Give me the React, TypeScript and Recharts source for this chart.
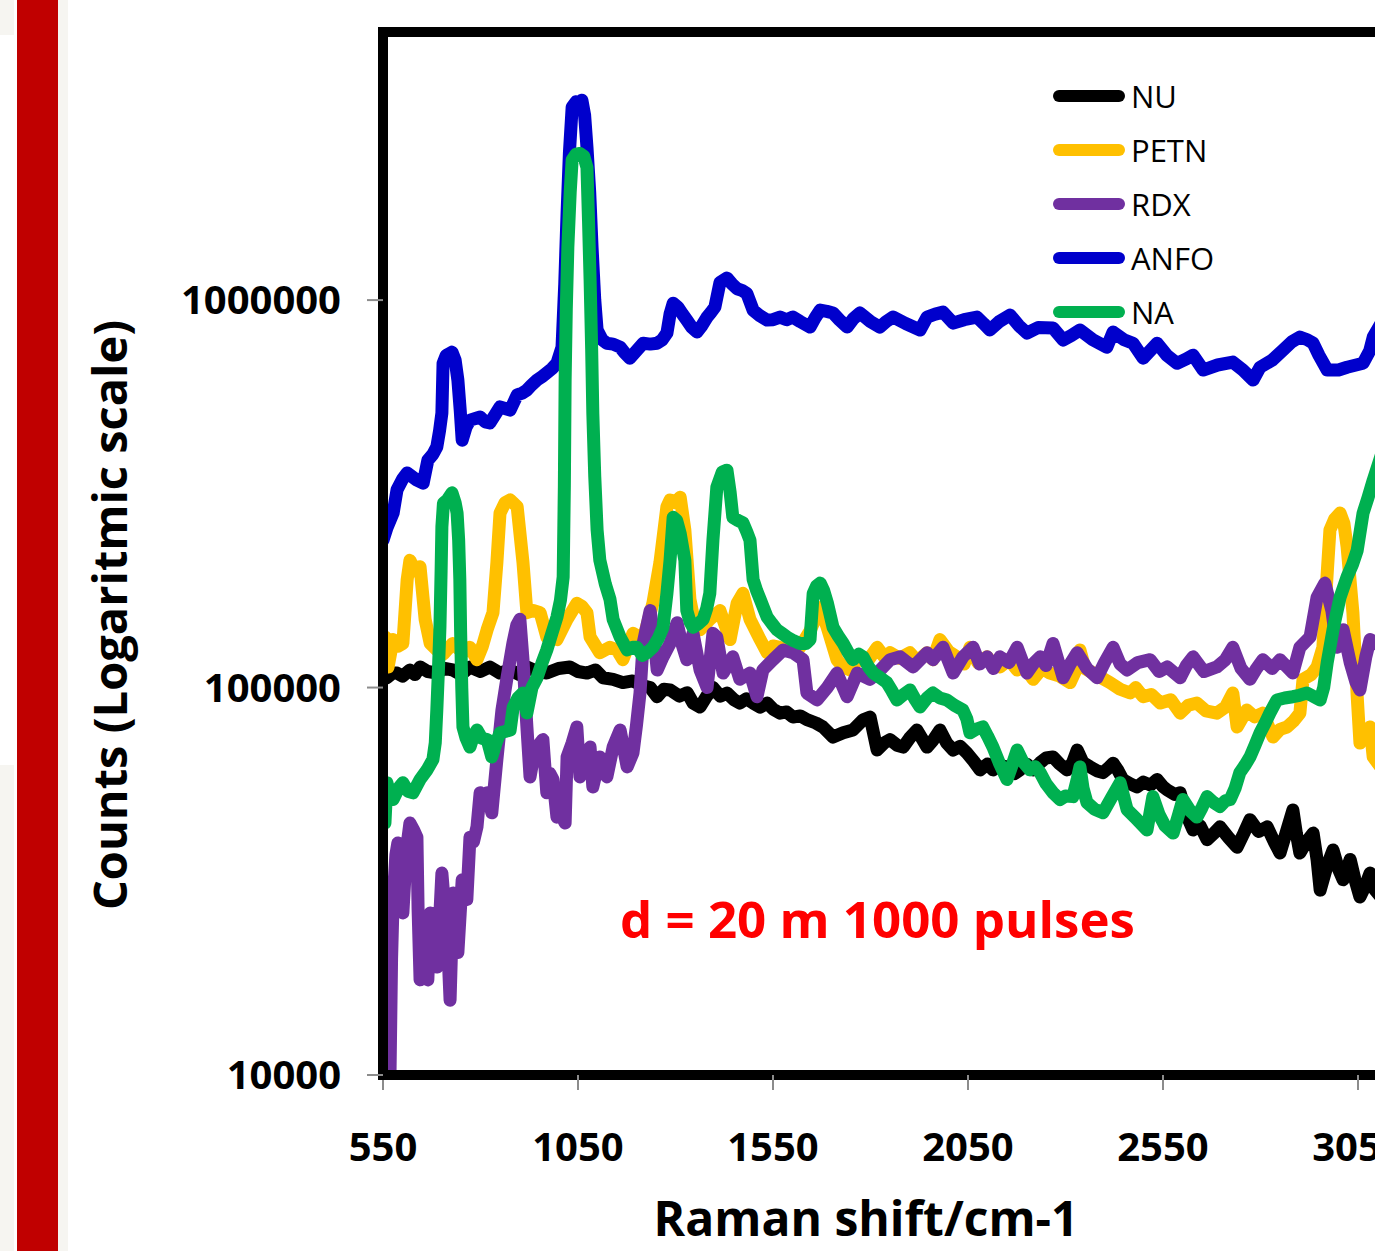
import React from 'react';
import { LineChart, Line, XAxis, YAxis, Legend, ReferenceLine, Customized } from 'recharts';

const FONT = "'Open Sans', 'DejaVu Sans', sans-serif";

const ramanTicks = [550, 1050, 1550, 2050, 2550, 3050];
const countTicks = [10000, 100000, 1000000];
const seriesNames = ['NU', 'PETN', 'RDX', 'ANFO', 'NA'];
const seriesColors = ['#000000', '#FFC000', '#7030A0', '#0000CC', '#00B050'];

const nu: [number, number][] = [
  [550, 108000], [560, 106000], [575, 109000], [586, 109000], [600, 107000], [619, 111000], [632, 108000], [645, 113000],
  [665, 110000], [688, 109000], [708, 112000], [729, 111000], [750, 108000], [773, 113000], [800, 110000], [824, 113000],
  [850, 109000], [876, 111000], [900, 108000], [919, 113000], [945, 110000], [970, 109000], [1000, 112000], [1029, 113000],
  [1050, 110000], [1073, 109000], [1095, 111000], [1114, 106000], [1140, 105000], [1165, 103000], [1190, 104000], [1217, 101000],
  [1235, 100000], [1253, 94700], [1270, 99000], [1286, 98600], [1310, 95000], [1330, 97000], [1345, 91200], [1363, 89100],
  [1380, 95000], [1396, 100000], [1415, 95000], [1432, 96800], [1450, 93000], [1465, 91200], [1482, 93500], [1499, 91200],
  [1517, 89000], [1535, 91200], [1550, 88000], [1568, 85900], [1585, 86500], [1601, 83900], [1620, 84500], [1637, 82600],
  [1660, 81000], [1678, 79100], [1704, 74500], [1730, 76400], [1755, 77700], [1781, 82600], [1799, 83900], [1817, 69000],
  [1835, 72000], [1850, 73400], [1868, 71000], [1884, 70200], [1900, 74000], [1919, 77700], [1945, 70200], [1960, 73000],
  [1978, 77700], [1995, 72000], [2012, 69000], [2030, 70500], [2047, 67800], [2065, 64500], [2081, 61300], [2100, 63500],
  [2114, 61300], [2130, 63000], [2150, 62400], [2170, 60000], [2183, 61300], [2200, 63500], [2217, 61300], [2235, 64000],
  [2250, 65800], [2268, 66200], [2285, 63500], [2304, 61300], [2318, 64000], [2330, 69000], [2345, 64000], [2363, 62400],
  [2380, 61000], [2396, 60300], [2410, 62000], [2422, 63800], [2435, 61000], [2447, 57900], [2465, 56500], [2483, 55400],
  [2500, 57000], [2518, 56000], [2535, 57900], [2550, 55500], [2561, 54400], [2580, 53000], [2594, 53500], [2610, 47000],
  [2627, 42900], [2645, 44000], [2663, 40500], [2680, 42000], [2696, 43700], [2718, 41000], [2740, 38700], [2757, 42000],
  [2773, 45600], [2795, 42500], [2817, 43700], [2835, 40000], [2850, 37400], [2865, 42000], [2883, 48300], [2892, 42000],
  [2901, 37400], [2918, 40000], [2935, 42100], [2945, 36000], [2953, 30000], [2970, 34500], [2986, 38100], [3000, 34000],
  [3012, 31900], [3030, 36000], [3042, 32000], [3055, 28800], [3070, 31000], [3081, 33200], [3094, 30000], [3114, 28400],
  [3150, 27500],
];

const petn: [number, number][] = [
  [550, 130000], [555, 135000], [563, 113000], [576, 133000], [590, 128000], [601, 130000], [612, 190000], [619, 213000],
  [632, 200000], [645, 205000], [658, 150000], [671, 130000], [688, 125000], [705, 122000], [729, 130000], [755, 123000],
  [773, 127000], [791, 118000], [805, 128000], [817, 141000], [832, 156000], [842, 210000], [850, 282000], [863, 300000],
  [876, 305000], [894, 293000], [909, 210000], [919, 156000], [935, 158000], [953, 156000], [970, 135000], [996, 133000],
  [1022, 150000], [1047, 165000], [1060, 162000], [1073, 156000], [1081, 135000], [1106, 123000], [1132, 127000], [1150, 125000],
  [1165, 118000], [1191, 138000], [1217, 133000], [1242, 165000], [1260, 210000], [1278, 293000], [1286, 305000], [1300, 300000],
  [1312, 310000], [1324, 255000], [1337, 169000], [1350, 145000], [1363, 141000], [1388, 150000], [1414, 158000], [1440, 133000],
  [1458, 165000], [1473, 175000], [1491, 150000], [1517, 133000], [1535, 123000], [1550, 128000], [1568, 127000], [1595, 124000],
  [1619, 127000], [1645, 140000], [1671, 161000], [1689, 143000], [1714, 118000], [1730, 113000], [1748, 111000], [1773, 120000],
  [1795, 118000], [1817, 127000], [1835, 120000], [1850, 123000], [1875, 119000], [1901, 123000], [1920, 117000], [1945, 123000],
  [1960, 118000], [1978, 133000], [2000, 124000], [2022, 120000], [2040, 115000], [2055, 127000], [2075, 116000], [2099, 120000],
  [2115, 114000], [2132, 113000], [2155, 118000], [2176, 111000], [2195, 113000], [2217, 105000], [2240, 112000], [2260, 109000],
  [2285, 107000], [2312, 103000], [2325, 110000], [2337, 125000], [2350, 112000], [2371, 109000], [2392, 106000], [2414, 103000],
  [2440, 99000], [2466, 96800], [2480, 100000], [2499, 94700], [2520, 96000], [2543, 91200], [2570, 93000], [2594, 85900],
  [2615, 90000], [2637, 91200], [2660, 87000], [2688, 85900], [2710, 89000], [2729, 96800], [2740, 79100], [2765, 87500],
  [2785, 84000], [2806, 85900], [2832, 74500], [2850, 78000], [2868, 79100], [2885, 82000], [2901, 85900], [2909, 105000],
  [2930, 108000], [2945, 113000], [2960, 127000], [2970, 190000], [2978, 255000], [2990, 272000], [3004, 282000], [3014, 265000],
  [3022, 231000], [3037, 156000], [3048, 94700], [3055, 71900], [3068, 76000], [3081, 79100], [3089, 66200], [3114, 61300],
  [3150, 60000],
];

const rdx: [number, number][] = [
  [556, 10000], [568, 10100], [572, 20000], [576, 28400], [583, 37000], [588, 39700], [595, 33000], [601, 26200],
  [610, 38000], [619, 44700], [628, 43000], [637, 41100], [640, 26700], [645, 17600], [655, 19500], [665, 17600],
  [671, 26200], [680, 22000], [688, 19000], [695, 25000], [701, 33200], [707, 28000], [714, 24100], [722, 15600],
  [730, 29500], [736, 25000], [742, 20700], [753, 31900], [765, 28400], [773, 41100], [782, 40000], [791, 43700],
  [799, 53500], [808, 51000], [817, 53500], [829, 47500], [842, 65200], [855, 87500], [868, 106000], [883, 130000],
  [893, 145000], [901, 150000], [909, 118000], [919, 79100], [927, 58800], [936, 66000], [945, 70200], [960, 73400],
  [970, 53500], [978, 60000], [986, 57900], [996, 46300], [1006, 47000], [1017, 44700], [1022, 66200], [1035, 72000],
  [1047, 79100], [1055, 58800], [1068, 63000], [1081, 70200], [1088, 55400], [1106, 66200], [1115, 62000], [1124, 58800],
  [1140, 70200], [1158, 77700], [1176, 62400], [1191, 67800], [1200, 80000], [1209, 96800], [1217, 130000], [1235, 158000],
  [1245, 135000], [1253, 111000], [1268, 120000], [1286, 130000], [1304, 147000], [1316, 130000], [1329, 118000], [1345, 138000],
  [1363, 111000], [1381, 100000], [1396, 138000], [1406, 135000], [1422, 109000], [1447, 120000], [1465, 105000], [1491, 109000],
  [1509, 94700], [1524, 111000], [1550, 118000], [1576, 125000], [1601, 123000], [1627, 118000], [1637, 96800], [1663, 92900],
  [1689, 100000], [1714, 109000], [1740, 94700], [1766, 109000], [1799, 105000], [1825, 111000], [1850, 118000], [1876, 120000],
  [1909, 113000], [1945, 123000], [1960, 118000], [1986, 127000], [2012, 109000], [2037, 120000], [2063, 127000], [2080, 115000],
  [2099, 120000], [2115, 112000], [2132, 120000], [2155, 116000], [2176, 127000], [2201, 109000], [2220, 116000], [2235, 120000],
  [2250, 114000], [2268, 130000], [2294, 106000], [2312, 115000], [2330, 123000], [2355, 112000], [2381, 106000], [2400, 116000],
  [2422, 127000], [2440, 115000], [2458, 111000], [2485, 116000], [2517, 118000], [2540, 110000], [2561, 113000], [2594, 106000],
  [2610, 114000], [2627, 120000], [2655, 110000], [2688, 113000], [2710, 118000], [2729, 127000], [2750, 112000], [2773, 105000],
  [2790, 112000], [2806, 118000], [2830, 112000], [2850, 118000], [2883, 109000], [2901, 127000], [2927, 135000], [2945, 171000],
  [2965, 186000], [2983, 158000], [2996, 127000], [3012, 141000], [3030, 116000], [3045, 103000], [3055, 98600], [3070, 120000],
  [3081, 133000], [3100, 130000], [3114, 125000], [3150, 124000],
];

const anfo: [number, number][] = [
  [550, 240000], [560, 258000], [576, 282000], [586, 324000], [600, 345000], [612, 358000], [625, 350000], [637, 343000],
  [653, 337000], [665, 386000], [678, 400000], [688, 418000], [695, 460000], [701, 511000], [704, 687000], [712, 720000],
  [727, 734000], [735, 700000], [742, 622000], [748, 520000], [753, 435000], [763, 470000], [773, 490000], [787, 495000],
  [799, 499000], [812, 485000], [824, 482000], [837, 505000], [850, 530000], [863, 525000], [876, 520000], [894, 569000],
  [907, 575000], [919, 586000], [932, 605000], [945, 622000], [958, 635000], [970, 649000], [983, 665000], [996, 687000],
  [1009, 756000], [1016, 1100000], [1022, 1680000], [1028, 2400000], [1035, 3150000], [1045, 3250000], [1052, 3200000], [1060, 3280000],
  [1067, 3000000], [1073, 2480000], [1080, 1900000], [1086, 1370000], [1093, 1000000], [1099, 837000], [1112, 790000], [1124, 774000],
  [1140, 770000], [1158, 756000], [1170, 730000], [1183, 708000], [1200, 740000], [1217, 774000], [1235, 770000], [1253, 774000],
  [1266, 790000], [1278, 822000], [1286, 920000], [1294, 982000], [1306, 959000], [1318, 920000], [1329, 888000], [1342, 850000],
  [1355, 827000], [1368, 860000], [1381, 904000], [1391, 930000], [1401, 959000], [1414, 1110000], [1432, 1140000], [1445, 1100000],
  [1458, 1070000], [1470, 1060000], [1483, 1040000], [1499, 942000], [1517, 910000], [1535, 888000], [1550, 890000], [1568, 904000],
  [1585, 890000], [1601, 904000], [1620, 880000], [1645, 852000], [1658, 900000], [1671, 942000], [1688, 935000], [1704, 926000],
  [1720, 890000], [1740, 852000], [1756, 895000], [1773, 926000], [1800, 880000], [1824, 852000], [1840, 880000], [1858, 904000],
  [1890, 870000], [1927, 837000], [1945, 904000], [1966, 920000], [1986, 931000], [2012, 872000], [2040, 890000], [2073, 904000],
  [2090, 870000], [2106, 837000], [2130, 880000], [2158, 915000], [2180, 860000], [2201, 822000], [2230, 850000], [2268, 847000],
  [2294, 789000], [2315, 810000], [2337, 837000], [2370, 790000], [2406, 756000], [2422, 827000], [2450, 790000], [2473, 774000],
  [2499, 708000], [2517, 740000], [2535, 774000], [2560, 720000], [2586, 687000], [2610, 705000], [2627, 721000], [2653, 660000],
  [2690, 680000], [2729, 692000], [2755, 660000], [2781, 622000], [2799, 671000], [2830, 700000], [2858, 743000], [2880, 780000],
  [2901, 803000], [2920, 790000], [2935, 774000], [2950, 720000], [2971, 660000], [3000, 660000], [3022, 671000], [3045, 680000],
  [3063, 687000], [3080, 740000], [3089, 803000], [3114, 888000], [3150, 950000],
];

const na: [number, number][] = [
  [550, 47000], [555, 44700], [560, 56800], [568, 53000], [576, 51400], [590, 55000], [601, 56800], [614, 54000],
  [627, 53500], [645, 57900], [663, 61300], [678, 65200], [684, 72000], [688, 87500], [692, 110000], [696, 143000],
  [699, 200000], [701, 260000], [705, 299000], [715, 305000], [727, 318000], [735, 300000], [740, 282000], [744, 240000],
  [747, 190000], [749, 140000], [752, 100000], [755, 79100], [763, 74000], [773, 70200], [782, 75000], [791, 77700],
  [803, 74000], [817, 73400], [829, 66200], [840, 72000], [850, 76400], [863, 77000], [876, 77700], [884, 89100],
  [896, 94000], [909, 96800], [919, 86000], [932, 100000], [945, 106000], [958, 116000], [970, 125000], [983, 138000],
  [996, 152000], [1005, 168000], [1012, 193000], [1015, 330000], [1017, 622000], [1020, 950000], [1024, 1370000], [1030, 1900000],
  [1035, 2300000], [1045, 2380000], [1055, 2390000], [1065, 2350000], [1073, 2200000], [1077, 1600000], [1081, 1130000], [1085, 750000],
  [1088, 511000], [1093, 350000], [1099, 255000], [1106, 213000], [1120, 185000], [1132, 169000], [1140, 150000], [1158, 135000],
  [1176, 125000], [1190, 127000], [1201, 127000], [1215, 121000], [1227, 123000], [1242, 127000], [1256, 134000], [1268, 143000],
  [1278, 175000], [1286, 213000], [1294, 275000], [1303, 270000], [1312, 250000], [1324, 213000], [1329, 158000], [1337, 148000],
  [1345, 143000], [1358, 146000], [1371, 150000], [1380, 160000], [1388, 175000], [1396, 240000], [1406, 329000], [1420, 360000],
  [1432, 364000], [1440, 320000], [1447, 275000], [1460, 270000], [1473, 266000], [1483, 252000], [1491, 240000], [1499, 190000],
  [1508, 178000], [1517, 169000], [1535, 152000], [1548, 146000], [1560, 141000], [1573, 138000], [1586, 135000], [1603, 132000],
  [1619, 130000], [1635, 130000], [1645, 133000], [1653, 175000], [1662, 183000], [1671, 186000], [1680, 178000], [1689, 166000],
  [1704, 143000], [1717, 136000], [1730, 130000], [1743, 123000], [1755, 118000], [1770, 122000], [1781, 120000], [1795, 113000],
  [1807, 109000], [1825, 106000], [1842, 103000], [1855, 98000], [1868, 92900], [1885, 96000], [1901, 98600], [1915, 93000],
  [1927, 89100], [1945, 94000], [1960, 96800], [1978, 94000], [1996, 92900], [2015, 90000], [2037, 87500], [2047, 83000],
  [2055, 76400], [2070, 78000], [2088, 79100], [2100, 75000], [2114, 70200], [2130, 64000], [2150, 57900], [2163, 63000],
  [2176, 69000], [2190, 64500], [2209, 61300], [2222, 62500], [2235, 60300], [2250, 56500], [2268, 53500], [2286, 51400],
  [2300, 52500], [2319, 52300], [2330, 58000], [2337, 62400], [2345, 55000], [2355, 50500], [2375, 48500], [2396, 47500],
  [2418, 52000], [2440, 56800], [2458, 48400], [2480, 46000], [2509, 42900], [2524, 52300], [2540, 47000], [2555, 44000],
  [2576, 42100], [2590, 47000], [2601, 51400], [2620, 48000], [2637, 46300], [2650, 49000], [2663, 52300], [2680, 50500],
  [2696, 49300], [2710, 51000], [2722, 51400], [2735, 55000], [2747, 60300], [2760, 63000], [2773, 66200], [2786, 71000],
  [2799, 76400], [2812, 81000], [2824, 85900], [2842, 92900], [2862, 94000], [2883, 94700], [2900, 95500], [2919, 96800],
  [2935, 95000], [2953, 92900], [2962, 100000], [2971, 116000], [2986, 141000], [3004, 171000], [3022, 193000], [3036, 208000],
  [3048, 226000], [3063, 282000], [3076, 310000], [3089, 343000], [3114, 410000], [3150, 480000],
];

const seriesValues = [nu, petn, rdx, anfo, na];
const toPoints = (arr: [number, number][]) => arr.map(([x, y]) => ({ x, y }));
const seriesList = seriesNames.map((name, i) => ({
  name,
  color: seriesColors[i],
  points: toPoints(seriesValues[i]),
}));

const LINE_W = 13;

const renderLegend = () => (
  <div style={{ fontFamily: FONT }}>
    {seriesList.map((s) => (
      <div key={s.name} style={{ display: 'flex', alignItems: 'center', height: 54 }}>
        <div style={{ width: 72, height: 12, borderRadius: 6, background: s.color }} />
        <span style={{ marginLeft: 6, fontSize: 31, color: '#000', lineHeight: '54px' }}>{s.name}</span>
      </div>
    ))}
  </div>
);

const XTitle = () => (
  <text x={866} y={1236} textAnchor="middle" fontFamily={FONT} fontWeight={700} fontSize={48} fill="#000">
    Raman shift/cm-1
  </text>
);

const YTitle = () => (
  <text
    x={127}
    y={615}
    textAnchor="middle"
    fontFamily={FONT}
    fontWeight={700}
    fontSize={47}
    fill="#000"
    transform="rotate(-90, 127, 615)"
  >
    Counts (Logaritmic scale)
  </text>
);

const Annotation = () => (
  <text x={620} y={938} textAnchor="start" fontFamily={FONT} fontWeight={700} fontSize={51} fill="#FF0000">
    d = 20 m 1000 pulses
  </text>
);

export default function App() {
  return (
    <div
      style={{
        position: 'absolute',
        left: 0,
        top: 0,
        width: 1375,
        height: 1251,
        overflow: 'hidden',
        background: '#ffffff',
      }}
    >
      <div style={{ position: 'absolute', left: 0, top: 0, width: 14, height: 35, background: '#f6f5f1' }} />
      <div style={{ position: 'absolute', left: 0, top: 765, width: 14, height: 486, background: '#f6f5f1' }} />
      <div style={{ position: 'absolute', left: 17, top: 0, width: 41, height: 1251, background: '#c00000' }} />
      <div style={{ position: 'absolute', left: 58, top: 0, width: 10, height: 1251, background: '#f6f5f1' }} />
      <div style={{ position: 'absolute', left: 0, top: 0 }}>
        <LineChart width={1420} height={1251} margin={{ top: 32, right: 23, bottom: 0, left: 0 }}>
          <XAxis
            type="number"
            dataKey="x"
            domain={[550, 3150]}
            ticks={ramanTicks}
            interval={0}
            allowDataOverflow
            height={176}
            tickSize={15}
            tickMargin={43}
            axisLine={{ stroke: '#000', strokeWidth: 10, strokeLinecap: 'square' }}
            tickLine={{ stroke: '#8c8c8c', strokeWidth: 2 }}
            tick={{ fill: '#000', fontSize: 40, fontWeight: 700, fontFamily: FONT }}
            label={XTitle}
          />
          <YAxis
            type="number"
            dataKey="y"
            scale="log"
            domain={[10000, 4920000]}
            ticks={countTicks}
            interval={0}
            allowDataOverflow
            width={383}
            tickSize={16}
            tickMargin={26}
            axisLine={{ stroke: '#000', strokeWidth: 10, strokeLinecap: 'square' }}
            tickLine={{ stroke: '#8c8c8c', strokeWidth: 2 }}
            tick={{ fill: '#000', fontSize: 40, fontWeight: 700, fontFamily: FONT }}
            label={YTitle}
          />
          <ReferenceLine y={4920000} stroke="#000" strokeWidth={10} strokeLinecap="square" />
          {seriesList.map((s) => (
            <Line
              key={s.name}
              data={s.points}
              dataKey="y"
              name={s.name}
              type="linear"
              stroke={s.color}
              strokeWidth={LINE_W}
              strokeLinejoin="round"
              strokeLinecap="round"
              dot={false}
              activeDot={false}
              isAnimationActive={false}
            />
          ))}
          <Legend
            layout="vertical"
            align="center"
            verticalAlign="middle"
            content={renderLegend}
            wrapperStyle={{ position: 'absolute', left: 1053, top: 69, width: 260, height: 270 }}
          />
          <Customized component={Annotation} />
        </LineChart>
      </div>
    </div>
  );
}
